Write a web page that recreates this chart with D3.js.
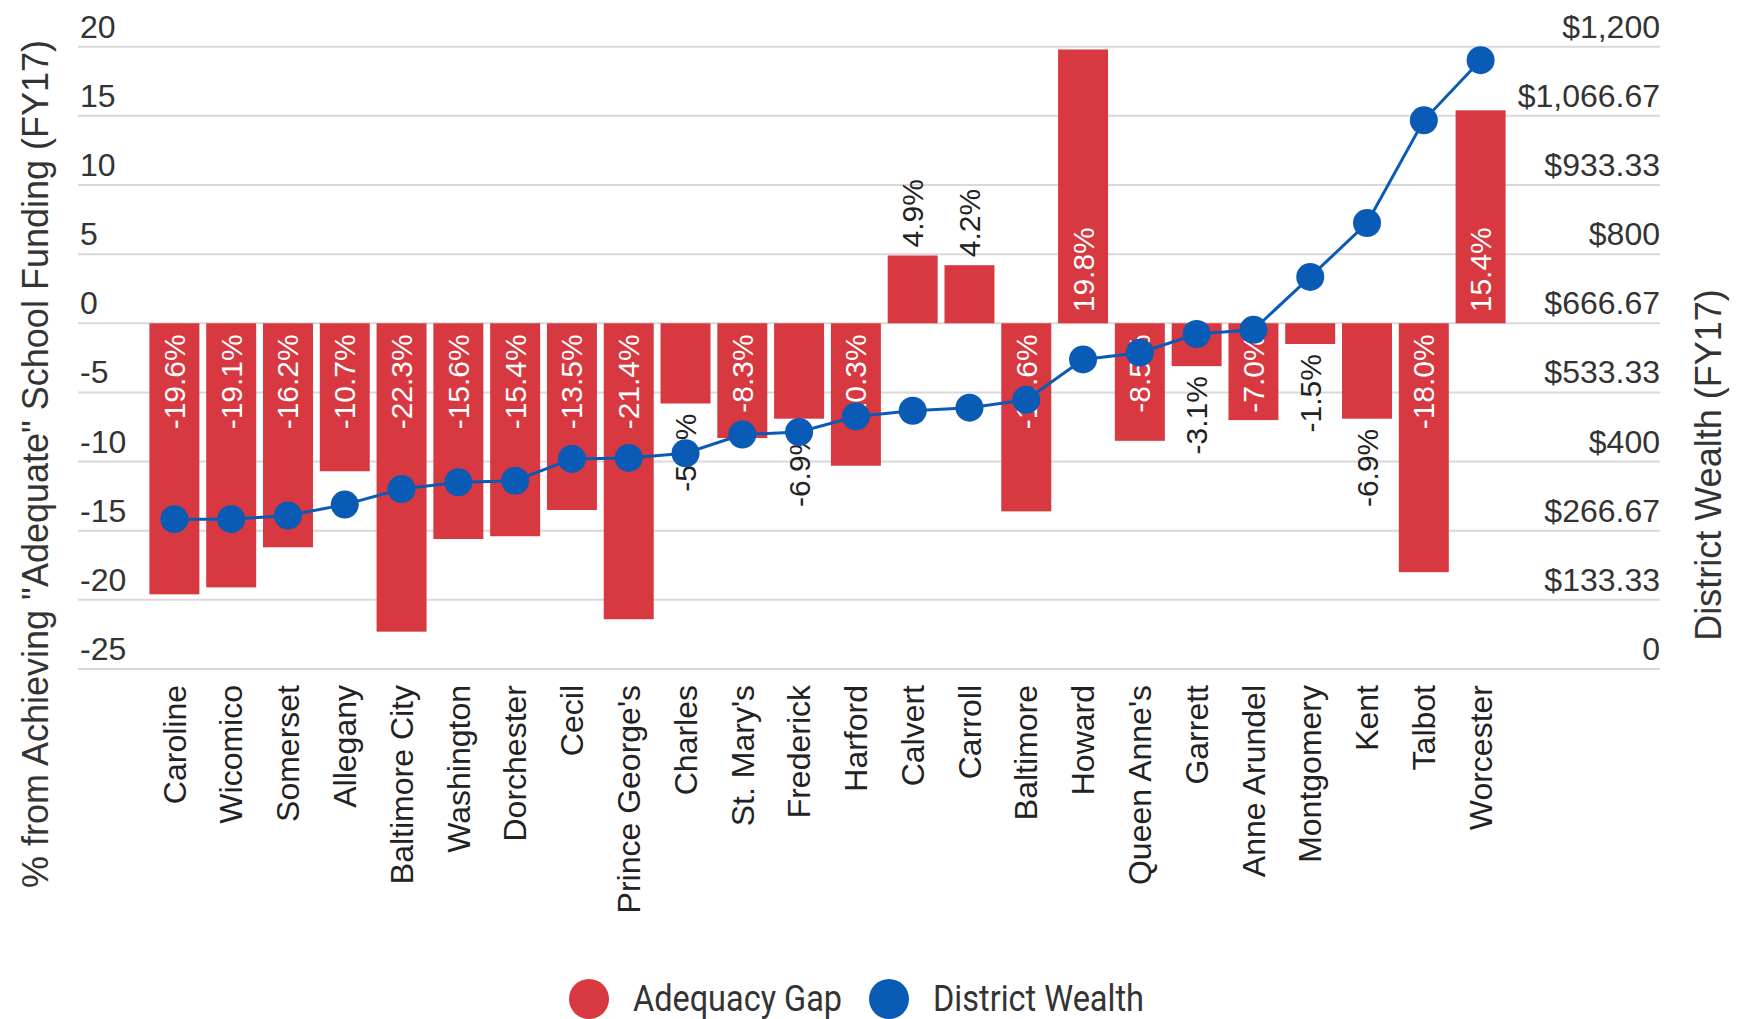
<!DOCTYPE html>
<html lang="en">
<head>
<meta charset="UTF-8">
<title>Adequacy Gap vs District Wealth</title>
<script src="https://cdn.jsdelivr.net/npm/d3@7"></script>
<style>
  body { margin: 0; background: #fff; }
  svg { display: block; }
</style>
</head>
<body>
<svg id="chart" width="1742" height="1019"></svg>
<script>
    const counties = ["Caroline", "Wicomico", "Somerset", "Allegany", "Baltimore City", "Washington",
        "Dorchester", "Cecil", "Prince George's", "Charles", "St. Mary's", "Frederick", "Harford",
        "Calvert", "Carroll", "Baltimore", "Howard", "Queen Anne's", "Garrett", "Anne Arundel",
        "Montgomery", "Kent", "Talbot", "Worcester"];
    const adequacyGap = [-19.6, -19.1, -16.2, -10.7, -22.3, -15.6, -15.4, -13.5, -21.4, -5.8, -8.3, -6.9,
        -10.3, 4.9, 4.2, -13.6, 19.8, -8.5, -3.1, -7.0, -1.5, -6.9, -18.0, 15.4];
    const districtWealth = [289, 289, 296, 317, 347, 360, 363, 405, 407, 416, 452, 457,
        487, 498, 504, 519, 597, 610, 646, 654, 756, 860, 1058, 1174];
    const gapTicks = [20, 15, 10, 5, 0, -5, -10, -15, -20, -25];
    const wealthTicks = [1200, 1066.67, 933.33, 800, 666.67, 533.33, 400, 266.67, 133.33, 0];
    const wealthTickLabels = ["$1,200", "$1,066.67", "$933.33", "$800", "$666.67", "$533.33",
        "$400", "$266.67", "$133.33", "0"];

    const red = "#d8383f", blue = "#0a5bb6";
    const gridLeft = 78, gridRight = 1660, plotTop = 46.7, plotBottom = 669;

    const svg = d3.select("#chart")
        .style("font-family", "'Liberation Sans', Arial, sans-serif");

    const x = d3.scaleBand()
        .domain(counties)
        .range([146, 1509])
        .paddingInner(0.12)
        .paddingOuter(0.06);

    const yGap = d3.scaleLinear().domain([-25, 20]).range([plotBottom, plotTop]);
    const yWealth = d3.scaleLinear().domain([0, 1200]).range([plotBottom, plotTop]);

    // grid
    svg.append("g")
        .selectAll("line")
        .data(gapTicks)
        .join("line")
        .attr("x1", gridLeft).attr("x2", gridRight)
        .attr("y1", d => yGap(d)).attr("y2", d => yGap(d))
        .attr("stroke", "#d9d9d9")
        .attr("stroke-width", 2);

    // left ticks sit above their grid line
    svg.append("g")
        .selectAll("text")
        .data(gapTicks)
        .join("text")
        .attr("x", gridLeft + 2)
        .attr("y", d => yGap(d) - 9)
        .attr("fill", "#333")
        .style("font-size", "32px")
        .text(d => d);

    svg.append("g")
        .selectAll("text")
        .data(wealthTicks)
        .join("text")
        .attr("x", gridRight)
        .attr("y", d => yWealth(d) - 9)
        .attr("text-anchor", "end")
        .attr("fill", "#333")
        .style("font-size", "32px")
        .text((d, i) => wealthTickLabels[i]);

    // bars
    svg.append("g")
        .selectAll("rect")
        .data(adequacyGap)
        .join("rect")
        .attr("x", (d, i) => x(counties[i]))
        .attr("width", x.bandwidth())
        .attr("y", d => yGap(Math.max(0, d)))
        .attr("height", d => Math.abs(yGap(d) - yGap(0)))
        .attr("fill", red);

    // value labels, inside when the bar is long enough
    const fits = d => Math.abs(d) >= 7;
    svg.append("g")
        .style("font-size", "30px")
        .selectAll("text")
        .data(adequacyGap)
        .join("text")
        .attr("transform", (d, i) => {
            const cx = x(counties[i]) + x.bandwidth() / 2;
            let yy;
            if (fits(d)) yy = d < 0 ? yGap(0) + 11 : yGap(0) - 11;
            else yy = d < 0 ? yGap(d) + 10 : yGap(d) - 8;
            return `translate(${cx},${yy}) rotate(-90)`;
        })
        .attr("dy", "0.35em")
        .attr("text-anchor", d => d < 0 ? "end" : "start")
        .attr("fill", d => fits(d) ? "#fff" : "#222")
        .text(d => d.toFixed(1) + "%");

    // wealth line
    const line = d3.line()
        .x((d, i) => x(counties[i]) + x.bandwidth() / 2)
        .y(d => yWealth(d));

    svg.append("path")
        .datum(districtWealth)
        .attr("fill", "none")
        .attr("stroke", blue)
        .attr("stroke-width", 3)
        .attr("d", line);

    svg.append("g")
        .selectAll("circle")
        .data(districtWealth)
        .join("circle")
        .attr("cx", (d, i) => x(counties[i]) + x.bandwidth() / 2)
        .attr("cy", d => yWealth(d))
        .attr("r", 14)
        .attr("fill", blue);

    // category labels
    svg.append("g")
        .style("font-size", "32px")
        .selectAll("text")
        .data(counties)
        .join("text")
        .attr("transform", d => `translate(${x(d) + x.bandwidth() / 2},${plotBottom + 16}) rotate(-90)`)
        .attr("dy", "0.35em")
        .attr("text-anchor", "end")
        .attr("fill", "#222")
        .text(d => d);

    // axis titles
    svg.append("text")
        .attr("transform", "translate(35,464) rotate(-90)")
        .attr("dy", "0.35em")
        .attr("text-anchor", "middle")
        .attr("fill", "#333")
        .style("font-size", "36px")
        .text('% from Achieving "Adequate" School Funding (FY17)');

    svg.append("text")
        .attr("transform", "translate(1708,465) rotate(-90)")
        .attr("dy", "0.35em")
        .attr("text-anchor", "middle")
        .attr("fill", "#333")
        .style("font-size", "36px")
        .text("District Wealth (FY17)");

    // legend (condensed face squeezed with textLength)
    const legend = svg.append("g")
        .style("font-family", "Roboto, sans-serif")
        .style("font-size", "36px");
    const legendItems = [
        {name: "Adequacy Gap", color: red, cx: 589, len: 209},
        {name: "District Wealth", color: blue, cx: 889, len: 211}
    ];
    legend.selectAll("circle")
        .data(legendItems)
        .join("circle")
        .attr("cx", d => d.cx)
        .attr("cy", 999)
        .attr("r", 20)
        .attr("fill", d => d.color);
    legend.selectAll("text")
        .data(legendItems)
        .join("text")
        .attr("x", d => d.cx + 44)
        .attr("y", 1011)
        .attr("textLength", d => d.len)
        .attr("lengthAdjust", "spacingAndGlyphs")
        .attr("fill", "#333")
        .text(d => d.name);
</script>
</body>
</html>
